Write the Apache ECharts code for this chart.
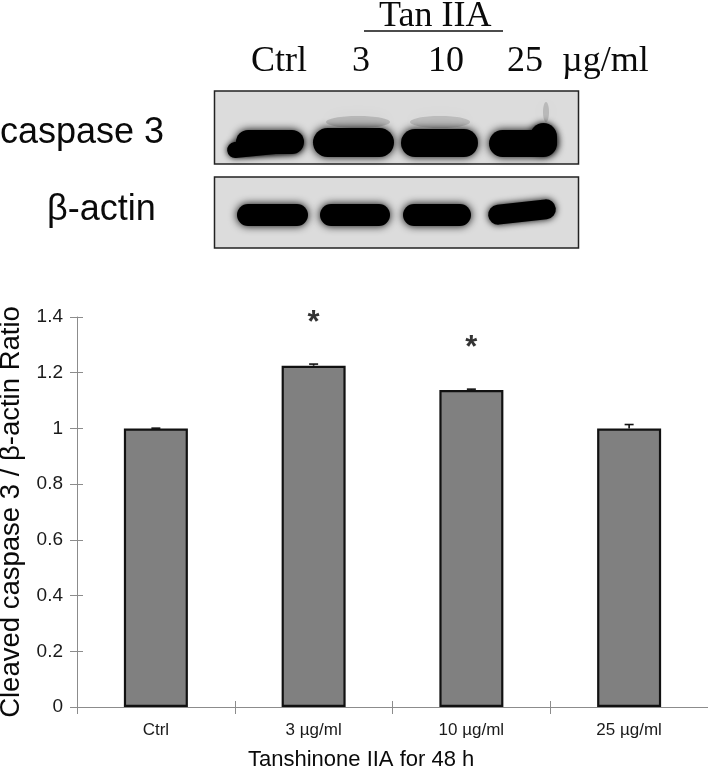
<!DOCTYPE html>
<html><head><meta charset="utf-8">
<style>html,body{margin:0;padding:0;background:#fff}#c{width:708px;height:771px}</style>
<script src="https://cdn.jsdelivr.net/npm/echarts@6/dist/echarts.min.js"></script>
</head><body><div id="c"></div>
<script>
const categories = ['Ctrl', '3 µg/ml', '10 µg/ml', '25 µg/ml'];
const ratioValues = [1.0, 1.225, 1.138, 1.0];
const ratioErrors = [0.001, 0.006, 0.003, 0.014];
const significanceMarks = [null, 1.4, 1.31, null];
const yTicks = [0, 0.2, 0.4, 0.6, 0.8, 1, 1.2, 1.4];
const blotLabels = ['Ctrl', '3', '10', '25', 'µg/ml'];

const chart = echarts.init(document.getElementById('c'), null, {renderer: 'canvas'});
const sans = '"Liberation Sans", Arial, sans-serif';
const serif = '"Liberation Serif", "Times New Roman", serif';
const axisGray = '#8c8c8c';

function text(x, y, t, size, font, extra) {
  return Object.assign({type: 'text', x, y, style: {text: t, font: size + 'px ' + font, fill: '#0a0a0a', textAlign: 'left', textVerticalAlign: 'middle'}, z: 20}, extra || {});
}
function band(x, y, w, h, rot, blur) {
  const cx = x + w / 2, cy = y + h / 2;
  return {type: 'rect', z: 10, x: cx, y: cy, rotation: rot || 0,
    shape: {x: -w / 2, y: -h / 2, width: w, height: h, r: h / 2},
    style: {fill: '#000', shadowBlur: blur || 9, shadowColor: '#000'}};
}
function smear(cx, cy, rx, ry, a) {
  return {type: 'ellipse', z: 8, shape: {cx, cy, rx, ry},
    style: {fill: 'rgba(70,70,70,' + a + ')', shadowBlur: 16, shadowColor: 'rgba(70,70,70,' + a + ')'}};
}
function panel(y, h) {
  return {type: 'rect', z: 5, shape: {x: 214.5, y, width: 364, height: h},
    style: {fill: '#dcdcdc', stroke: '#222', lineWidth: 1.5}};
}
const graphics = [
  panel(91, 73), panel(177, 71),
  // caspase 3 bands
  band(236, 130, 68, 24, 0, 8),
  band(227, 139, 76, 16, 0.1, 6),
  band(313, 128, 81, 29, 0, 8),
  band(401, 129, 77, 28, 0, 8),
  band(489, 130, 68, 27, 0, 8),
  band(530, 123, 27, 32, 0, 7),
  // faint smear above the bands
  smear(358, 122, 32, 6, 0.22),
  smear(440, 122, 30, 6, 0.2),
  smear(546, 112, 3, 10, 0.22),
  // beta-actin bands
  band(237, 204, 71, 22, 0, 8),
  band(320, 204, 70, 22, 0, 8),
  band(403, 204, 68, 22, 0, 8),
  band(488, 202, 68, 20, 0.11, 7),
  // header labels
  text(379, 17, 'Tan IIA', 36, serif),
  {type: 'line', z: 20, shape: {x1: 364, y1: 31, x2: 503, y2: 31}, style: {stroke: '#111', lineWidth: 1.6}},
  text(251, 62, blotLabels[0], 36, serif),
  text(352, 62, blotLabels[1], 36, serif),
  text(428, 62, blotLabels[2], 36, serif),
  text(507, 62, blotLabels[3], 36, serif),
  text(562, 62, blotLabels[4], 36, serif),
  text(0, 133, 'caspase 3', 36, sans),
  text(47, 210, 'β-actin', 36, sans),
  text(248, 760, 'Tanshinone IIA for 48 h', 22, sans)
];

chart.setOption({
  animation: false,
  backgroundColor: '#fff',
  grid: {left: 77, right: 0, top: 317, height: 390, containLabel: false, outerBoundsMode: 'none'},
  graphic: graphics,
  xAxis: [
    {type: 'category', data: categories, position: 'bottom',
     axisLine: {lineStyle: {color: axisGray, width: 1}},
     axisTick: {show: true, alignWithLabel: false, length: 7, lineStyle: {color: axisGray}},
     axisLabel: {color: '#1a1a1a', fontFamily: sans, fontSize: 17, margin: 15}},
    {type: 'category', data: categories, position: 'bottom',
     axisLine: {show: false},
     axisTick: {show: true, inside: true, length: 6, lineStyle: {color: axisGray}},
     axisLabel: {show: false}}
  ],
  yAxis: [
    {type: 'value', min: 0, max: 1.4, interval: 0.2,
     axisLine: {show: true, lineStyle: {color: axisGray, width: 1}},
     axisTick: {show: true, length: 7, lineStyle: {color: axisGray}},
     splitLine: {show: false},
     axisLabel: {color: '#1a1a1a', fontFamily: sans, fontSize: 19, margin: 14,
       formatter: v => String(yTicks.find(t => Math.abs(t - v) < 1e-6))},
     name: 'Cleaved caspase 3 / β-actin Ratio', nameLocation: 'middle', nameGap: 52,
     nameTextStyle: {color: '#0a0a0a', fontFamily: sans, fontSize: 27.5}},
    {type: 'value', min: 0, max: 1.4, interval: 0.2, position: 'left',
     axisLine: {show: false},
     axisTick: {show: true, inside: true, length: 6, lineStyle: {color: axisGray}},
     splitLine: {show: false}, axisLabel: {show: false}}
  ],
  series: [
    {type: 'bar', data: ratioValues, barWidth: 64, z: 3,
     itemStyle: {color: '#808080', borderColor: '#111', borderWidth: 2.2}},
    {type: 'custom', z: 2,
     data: ratioValues.map((v, i) => [i, v, v + ratioErrors[i]]),
     encode: {x: 0, y: [1, 2]},
     renderItem(params, api) {
       const a = api.coord([api.value(0), api.value(1)]);
       const b = api.coord([api.value(0), api.value(2)]);
       const st = {stroke: '#111', lineWidth: 1.6, fill: 'none'};
       return {type: 'group', children: [
         {type: 'line', shape: {x1: a[0], y1: a[1], x2: b[0], y2: b[1]}, style: st},
         {type: 'line', shape: {x1: b[0] - 4.5, y1: b[1], x2: b[0] + 4.5, y2: b[1]}, style: st}
       ]};
     }},
    {type: 'scatter', symbolSize: 0, z: 4,
     data: significanceMarks.map((v, i) => v === null ? null : [i, v]),
     label: {show: true, position: 'inside', formatter: '*', color: '#000', fontFamily: sans, fontSize: 31, fontWeight: 'bold', offset: [0, 6]}}
  ]
});
</script></body></html>
